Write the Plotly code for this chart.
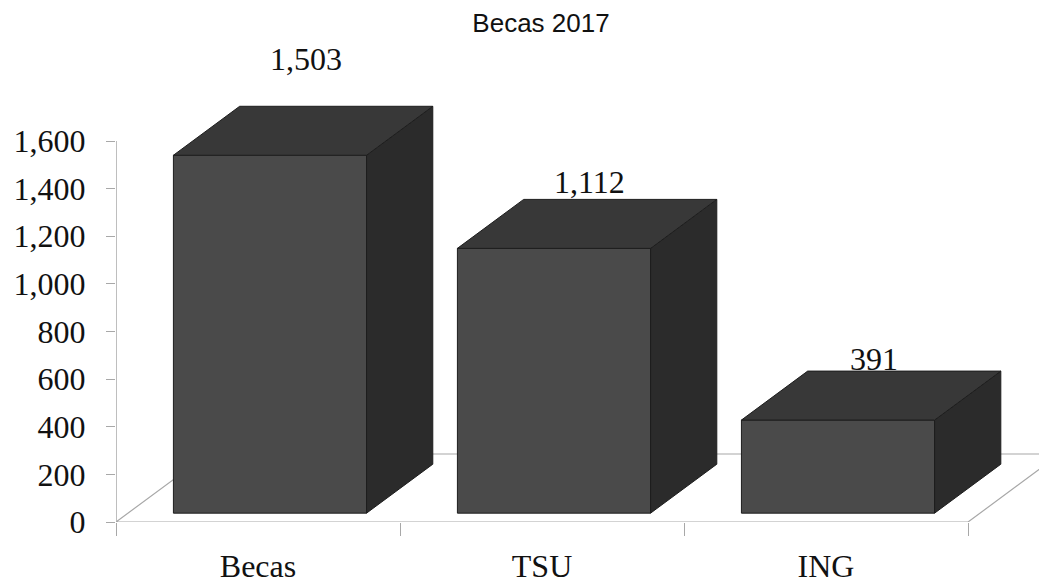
import plotly.graph_objects as go

# ---- data ----
categories = ["Becas", "TSU", "ING"]
values = [1503, 1112, 391]
y_tick_values = [0, 200, 400, 600, 800, 1000, 1200, 1400, 1600]
title_text = "Becas 2017"

# ---- style / geometry (pseudo-3D projection) ----
label_lift_px = [47, 17, 12]      # extra lift of the value labels
HALF_W = 0.34                     # half width of bar front face (category units)
DX, DY = 0.324, 285.6             # full floor depth vector in data units
D0, D1 = 0.13, 0.85               # depth fractions of bar front / back faces
FRONT = "#4a4a4a"
TOP = "#383838"
SIDE = "#2b2b2b"
EDGE = "#1e1e1e"
AXIS_GRAY = "#a8a8a8"
SERIF = "Liberation Serif"
SANS = "Liberation Sans"
PAGE_OFFSET = 8                   # default body margin of the html page

xpos = list(range(len(categories)))
ddx = (D1 - D0) * DX
ddy = (D1 - D0) * DY
base0 = D0 * DY

fig = go.Figure()

# front faces (real bar trace)
fig.add_trace(go.Bar(
    x=[i + D0 * DX for i in xpos],
    y=values,
    base=base0,
    width=2 * HALF_W,
    marker=dict(color=FRONT, line=dict(color=EDGE, width=1)),
    hoverinfo="skip",
    showlegend=False,
))

# side and top faces
for i, v in zip(xpos, values):
    xl = i + D0 * DX - HALF_W
    xr = i + D0 * DX + HALF_W
    top = v + base0
    fig.add_trace(go.Scatter(
        x=[xr, xr + ddx, xr + ddx, xr, xr],
        y=[base0, base0 + ddy, top + ddy, top, base0],
        mode="lines", fill="toself", fillcolor=SIDE,
        line=dict(color=EDGE, width=1), hoverinfo="skip", showlegend=False,
    ))
    fig.add_trace(go.Scatter(
        x=[xl, xr, xr + ddx, xl + ddx, xl],
        y=[top, top, top + ddy, top + ddy, top],
        mode="lines", fill="toself", fillcolor=TOP,
        line=dict(color=EDGE, width=1), hoverinfo="skip", showlegend=False,
    ))

# value labels
for i, v, lift in zip(xpos, values, label_lift_px):
    fig.add_annotation(
        x=i + (D0 + D1) / 2 * DX + 0.01, y=v + D1 * DY,
        xref="x", yref="y", text=f"{v:,}", showarrow=False,
        yanchor="middle", yshift=lift,
        font=dict(family=SERIF, size=32, color="#111111"),
    )

# floor and y-axis line (decorations under the bars)
x_lo, x_hi = -0.5, len(categories) - 0.5
floor_path = (f"M {x_lo} 0 L {x_hi} 0 L {x_hi + DX} {DY} "
              f"L {x_lo + DX} {DY} Z")
fig.add_shape(type="path", path=floor_path, xref="x", yref="y",
              line=dict(color=AXIS_GRAY, width=1.2), fillcolor="rgba(0,0,0,0)",
              layer="below")
fig.add_shape(type="line", x0=x_lo, x1=x_lo, y0=0, y1=max(y_tick_values),
              xref="x", yref="y", line=dict(color=AXIS_GRAY, width=1.5),
              layer="below")

px_per_unit = 381 / 1600
plot_top, plot_bottom, plot_left = 40, 522, 116   # page pixels
top_margin = plot_top - PAGE_OFFSET
bottom_margin = 583 - (plot_bottom - PAGE_OFFSET)
left_margin = plot_left - PAGE_OFFSET
plot_h = plot_bottom - plot_top
y_max = plot_h / px_per_unit

fig.update_layout(
    width=1047, height=583,
    margin=dict(l=left_margin, r=PAGE_OFFSET, t=top_margin, b=bottom_margin,
                autoexpand=False),
    paper_bgcolor="white", plot_bgcolor="white",
    showlegend=False,
    title=dict(text=title_text, x=(541 - PAGE_OFFSET) / 1047, xanchor="center",
               y=1 - (23 - PAGE_OFFSET) / 583, yref="container", yanchor="middle",
               font=dict(family=SANS, size=26, color="#111111")),
    xaxis=dict(
        range=[x_lo, x_hi + 0.278],
        tickmode="array", tickvals=xpos, ticktext=categories,
        ticks="", showline=False, showgrid=False, zeroline=False,
        tickfont=dict(family=SERIF, size=32, color="#111111"),
        ticklabelstandoff=22,
        minor=dict(tickmode="array",
                   tickvals=[i - 0.5 for i in range(len(categories) + 1)],
                   ticks="outside", ticklen=13, tickcolor=AXIS_GRAY,
                   tickwidth=1.2, showgrid=False),
        fixedrange=True,
    ),
    yaxis=dict(
        range=[0, y_max],
        tickmode="array", tickvals=y_tick_values, tickformat=",",
        ticks="outside", ticklen=9, tickcolor=AXIS_GRAY, tickwidth=1.2,
        showline=False, showgrid=False, zeroline=False,
        tickfont=dict(family=SERIF, size=32, color="#111111"),
        ticklabelstandoff=14,
        fixedrange=True,
    ),
)

fig.write_html("out.html")
